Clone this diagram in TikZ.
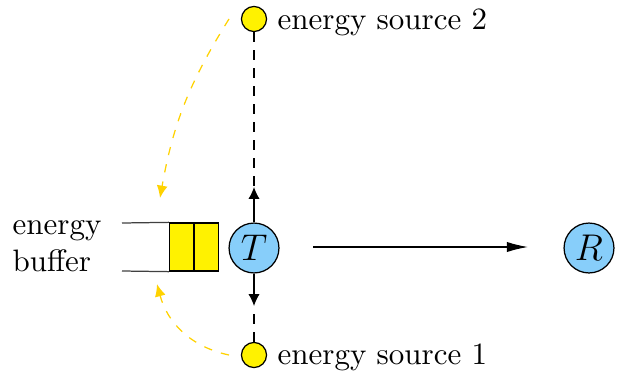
\documentclass[tikz,border=0pt]{standalone}
\usetikzlibrary{arrows.meta}
\definecolor{nodeblue}{RGB}{135,206,250}
\definecolor{gold}{RGB}{255,210,0}
\begin{document}
\begin{tikzpicture}[x=0.3226pt,y=-0.3226pt,
  agent/.style={circle,draw,fill=nodeblue,minimum size=16.1pt,inner sep=0pt,font=\large},
  src/.style={circle,draw,fill=yellow,minimum size=8.1pt,inner sep=0pt},
  cell/.style={draw,fill=yellow,minimum width=7.74pt,minimum height=15.5pt,inner sep=0pt,anchor=west},
  blk/.style={-{Latex[length=3.8pt,width=3.6pt]}},
  hblk/.style={-{Latex[length=6.8pt,width=3.3pt]}},
  gdash/.style={gold,dash pattern=on 2.7pt off 3pt,-{Latex[length=4pt,width=3.5pt]}},
  bdash/.style={dash pattern=on 3.2pt off 2.6pt},
  lbl/.style={anchor=west,inner sep=0pt}]
\useasboundingbox (0,0) rectangle (618,373);
\node[agent] (T) at (254,248) {$T$};
\node[agent] (R) at (589,248) {$R$};
\node[src] (s2) at (254,19) {};
\node[src] (s1) at (254,355) {};
\node[lbl] (l2) at (277,22) {energy source 2};
\node[lbl] (l1) at (277,357) {energy source 1};
\node[cell] (c1) at (169,247) {};
\node[cell] (c2) at (c1.east) {};
\coordinate (bt) at (122,223);
\coordinate (bb) at (122,271);
\draw[black!75] (bt) -- (c1.north west);
\draw[black!75] (bb) -- (c1.south west);
\node[anchor=east,align=left,inner sep=0pt] (eb) at (102,246) {energy\\buffer};
\coordinate (up) at (254,187);
\coordinate (dn) at (254,306);
\coordinate (hs) at (313,247);
\coordinate (he) at (528,247);
\draw[bdash] (s2) -- (up);
\draw[bdash] (s1) -- (dn);
\draw[blk] (T) -- (up);
\draw[blk] (T) -- (dn);
\draw[hblk] (hs) -- (he);
\coordinate (g2s) at (229,19);
\coordinate (g2e) at (160,198);
\coordinate (g1s) at (229,355);
\coordinate (g1e) at (157,284);
\draw[gdash] (g2s) to[out=-122,in=80] (g2e);
\draw[gdash] (g1s) to[out=168,in=-75] (g1e);
\end{tikzpicture}
\end{document}
